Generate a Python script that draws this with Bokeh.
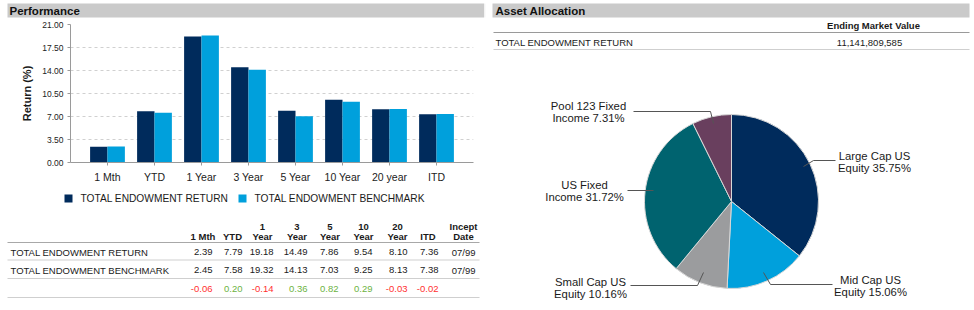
import math
from bokeh.plotting import figure
from bokeh.layouts import row, column
from bokeh.models import (Range1d, FactorRange, FixedTicker, ColumnDataSource,
                          PrintfTickFormatter)
from bokeh.transform import dodge
from bokeh.core.properties import value
from bokeh.embed import file_html
from bokeh.resources import INLINE

FONT = "Liberation Sans"

# ---------------- data ----------------
periods = ["1 Mth", "YTD", "1 Year", "3 Year", "5 Year", "10 Year", "20 year", "ITD"]
endowment_return = [2.39, 7.79, 19.18, 14.49, 7.86, 9.54, 8.10, 7.36]
endowment_benchmark = [2.45, 7.58, 19.32, 14.13, 7.03, 9.25, 8.13, 7.38]
excess_return = [-0.06, 0.20, -0.14, 0.36, 0.82, 0.29, -0.03, -0.02]
incept_date = "07/99"
y_ticks = [0.0, 3.5, 7.0, 10.5, 14.0, 17.5, 21.0]
series_names = ["TOTAL ENDOWMENT RETURN", "TOTAL ENDOWMENT BENCHMARK"]
table_head_top = ["", "", "1", "3", "5", "10", "20", "", "Incept"]
table_head_bottom = ["1 Mth", "YTD", "Year", "Year", "Year", "Year", "Year", "ITD", "Date"]

asset_label_line1 = ["Large Cap US", "Mid Cap US", "Small Cap US", "US Fixed", "Pool 123 Fixed"]
asset_label_line2 = ["Equity", "Equity", "Equity", "Income", "Income"]
allocation_pct = [35.75, 15.06, 10.16, 31.72, 7.31]
total_label = "TOTAL ENDOWMENT RETURN"
ending_market_value = "11,141,809,585"

# ---------------- styles ----------------
NAVY = "#002B5C"
LIGHT = "#00A0DC"
SERIES_COLORS = [NAVY, LIGHT]
PIE_COLORS = ["#002B5C", "#00A0DC", "#9B9C9E", "#00636F", "#693F5E"]
HEAD_GRAY = "#CACACA"
TXT = "#1A1A1A"
RED = "#FF3030"
GREEN = "#6DB33F"


def blank(width, height, xr, yr):
    f = figure(width=width, height=height, x_range=Range1d(*xr), y_range=Range1d(*yr),
               output_backend="svg", toolbar_location=None, min_border=0,
               x_axis_location=None, y_axis_location=None)
    f.grid.visible = False
    f.outline_line_color = None
    return f


def txt(f, x, y, t, size="9.5px", align="left", style="normal", color=TXT):
    f.text(x=x, y=y, text=t, text_font=value(FONT), text_font_size=size,
           text_align=align, text_baseline="middle", text_font_style=style,
           text_color=color)


# ---------------- left header ----------------
hA = blank(484, 20, (0, 484), (20, 0))
hA.quad(left=[7], right=[484], top=[3], bottom=[17], color=HEAD_GRAY, line_color=None)
txt(hA, [9], [10.5], ["Performance"], size="11.5px", style="bold", color="#111111")

# ---------------- bar chart ----------------
xr = FactorRange(factors=periods, range_padding=0.287, range_padding_units="absolute")
p = figure(width=484, height=170, x_range=xr, y_range=Range1d(0, 21),
           output_backend="svg", toolbar_location=None,
           min_border_left=70, min_border_right=11, min_border_top=4, min_border_bottom=28)
src = ColumnDataSource(dict(period=periods, ret=endowment_return, bmk=endowment_benchmark))
p.vbar(x=dodge("period", -0.185, range=p.x_range), top="ret", width=0.37,
       source=src, fill_color=NAVY, line_color=None)
p.vbar(x=dodge("period", 0.185, range=p.x_range), top="bmk", width=0.37,
       source=src, fill_color=LIGHT, line_color=None)
p.outline_line_color = None
p.xgrid.visible = False
p.ygrid.grid_line_color = "#D0D0D0"
p.ygrid.grid_line_dash = "3 3"
p.yaxis.ticker = FixedTicker(ticks=y_ticks)
p.yaxis.formatter = PrintfTickFormatter(format="%.2f")
p.yaxis.axis_label = "Return (%)"
p.yaxis.axis_label_text_font = FONT
p.yaxis.axis_label_text_font_style = "bold"
p.yaxis.axis_label_text_font_size = "11px"
p.yaxis.axis_label_text_color = TXT
p.yaxis.axis_label_standoff = 6
for ax in (p.xaxis[0], p.yaxis[0]):
    ax.axis_line_color = "#9A9A9A"
    ax.major_tick_line_color = "#9A9A9A"
    ax.major_tick_out = 3
    ax.major_tick_in = 0
    ax.minor_tick_out = 0
    ax.minor_tick_in = 0
    ax.major_label_text_font = FONT
    ax.major_label_text_color = "#222222"
p.yaxis.major_label_text_font_size = "8.5px"
p.yaxis.major_label_standoff = 4
p.xaxis.major_label_text_font_size = "10.5px"
p.xaxis.major_label_standoff = 5

# ---------------- legend + performance table ----------------
tC = blank(484, 120, (0, 484), (310, 190))
leg_x = [68, 242]
tC.rect(x=leg_x, y=[198, 198], width=8, height=8, fill_color=SERIES_COLORS, line_color=None)
txt(tC, [x + 12 for x in leg_x], [198, 198], series_names, size="10.2px")

val_right = [212, 242, 273, 307, 338, 372, 407, 438, 475]
head_center = [202.5, 232, 262, 296.5, 329.5, 363, 397, 427.5, 463]
txt(tC, head_center, [226] * 9, table_head_top, size="9.5px", align="center", style="bold")
txt(tC, head_center, [235.5] * 9, table_head_bottom, size="9.5px", align="center", style="bold")
tC.segment(x0=[7], x1=[479], y0=[242], y1=[242], line_color="#A8A8A8", line_width=1.2)
tC.segment(x0=[7] * 3, x1=[479] * 3, y0=[259.5, 278, 297], y1=[259.5, 278, 297],
           line_color="#CFCFCF", line_width=1)
txt(tC, [10, 10], [251.5, 269.5], series_names)
txt(tC, val_right, [251.5] * 9, ["%.2f" % v for v in endowment_return] + [incept_date], align="right")
txt(tC, val_right, [269.5] * 9, ["%.2f" % v for v in endowment_benchmark] + [incept_date], align="right")
ex_cols = [RED if v < 0 else GREEN for v in excess_return]
tC.text(x=val_right[:8], y=[288] * 8, text=["%.2f" % v for v in excess_return],
        text_color=ex_cols, text_font=value(FONT), text_font_size="9.5px",
        text_align="right", text_baseline="middle")

# ---------------- right panel ----------------
D = blank(490, 310, (484, 974), (0, 310))


def Y(py):
    return 310 - py


D.quad(left=[484], right=[484.6], top=[Y(3)], bottom=[Y(17)], color=HEAD_GRAY, line_color=None)
D.quad(left=[492], right=[969], top=[Y(3)], bottom=[Y(17)], color=HEAD_GRAY, line_color=None)
txt(D, [495], [Y(10.5)], ["Asset Allocation"], size="11.5px", style="bold", color="#111111")
txt(D, [873], [Y(25)], ["Ending Market Value"], size="9.5px", align="center", style="bold")
D.segment(x0=[493], x1=[969], y0=[Y(32)], y1=[Y(32)], line_color="#9A9A9A", line_width=1.2)
txt(D, [495], [Y(42)], [total_label])
txt(D, [869], [Y(42)], [ending_market_value], align="center")
D.segment(x0=[493], x1=[969], y0=[Y(49)], y1=[Y(49)], line_color="#CFCFCF", line_width=1)

# pie
cum = [0.0]
for v in allocation_pct:
    cum.append(cum[-1] + v)
total = cum[-1]
starts = [math.pi / 2 - 2 * math.pi * c / total for c in cum[:-1]]
ends = [math.pi / 2 - 2 * math.pi * c / total for c in cum[1:]]
pie_src = ColumnDataSource(dict(start=starts, end=ends, color=PIE_COLORS))
D.wedge(x=731, y=Y(201), radius=87, start_angle="start", end_angle="end",
        direction="clock", fill_color="color", line_color="#D8D8D8", line_width=1,
        source=pie_src)

# leader lines (page coords)
leaders = [
    ([803, 813, 835], [166, 160, 160]),
    ([763, 770, 832], [272, 284, 284]),
    ([703, 697, 630], [272, 285, 285]),
    ([653, 627], [190, 190]),
    ([713, 710, 633], [123, 111, 111]),
]
D.multi_line(xs=[l[0] for l in leaders], ys=[[Y(v) for v in l[1]] for l in leaders],
             line_color="#555555", line_width=1)

label_pos = [(874, 155, 167), (870, 279, 291), (590, 281, 293), (584, 184, 196), (588, 105, 117)]
for (cx, y1, y2), a, b, pct in zip(label_pos, asset_label_line1, asset_label_line2, allocation_pct):
    txt(D, [cx, cx], [Y(y1), Y(y2)], [a, "%s %.2f%%" % (b, pct)], size="11.3px", align="center")

layout = row(column(row(hA), row(p), row(tC), spacing=0), D, spacing=0)

open("out.html", "w").write(file_html(layout, INLINE))
